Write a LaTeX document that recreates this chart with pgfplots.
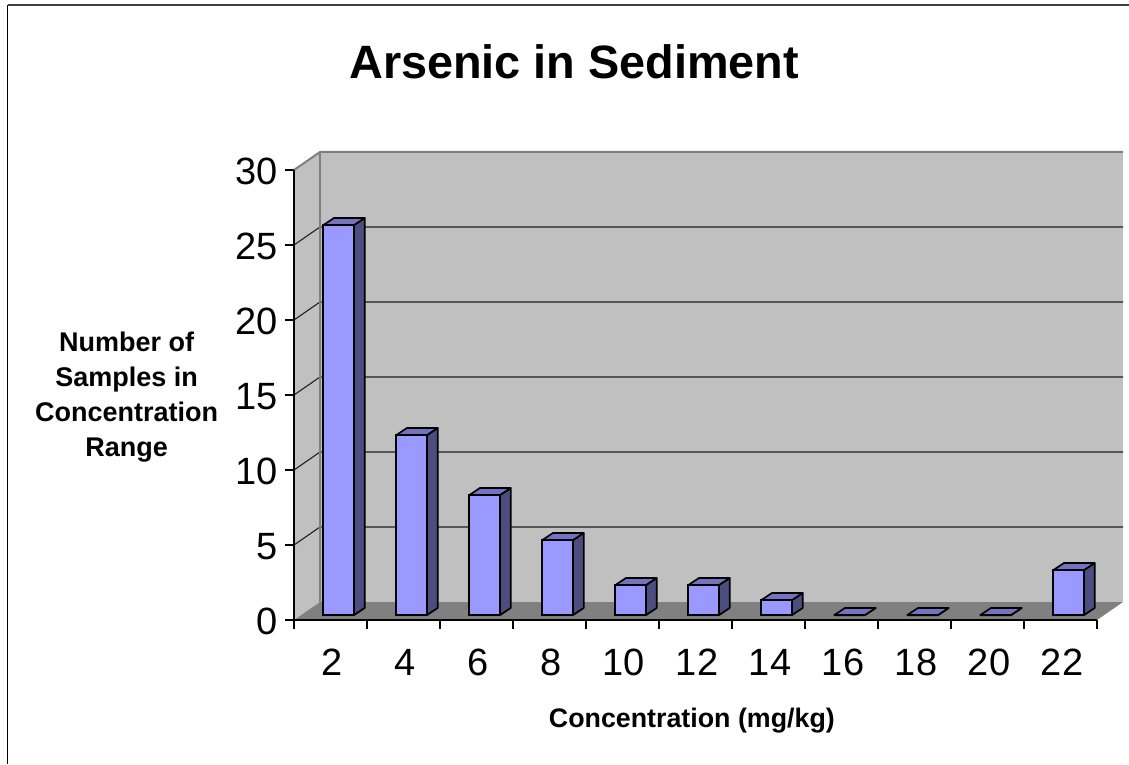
\documentclass[border=0pt]{standalone}
\usepackage{fontspec}
\usepackage{pgfplots}
\pgfplotsset{compat=1.18}
\setmainfont{Liberation Sans}
\definecolor{wall}{HTML}{C0C0C0}
\definecolor{floorc}{HTML}{808080}
\definecolor{gridc}{HTML}{202020}
\definecolor{barfront}{HTML}{9999FF}
\definecolor{bartop}{HTML}{7373BF}
\definecolor{barside}{HTML}{4D4D80}
\newcommand{\barfaces}[2]{%
  \pgfmathsetmacro{\xa}{#1-0.2103}%
  \pgfmathsetmacro{\xb}{#1+0.2103}%
  \pgfmathsetmacro{\xc}{#1+0.2103+0.1507}%
  \pgfmathsetmacro{\xd}{#1-0.2103+0.1507}%
  \pgfmathsetmacro{\yt}{#2+0.487}%
  \addplot[draw=black,line width=1.7pt,line join=round,fill=barside,mark=none,forget plot]
    coordinates {(\xb,0) (\xc,0.487) (\xc,\yt) (\xb,#2) (\xb,0)};
  \addplot[draw=black,line width=1.7pt,line join=round,fill=bartop,mark=none,forget plot]
    coordinates {(\xa,#2) (\xd,\yt) (\xc,\yt) (\xb,#2) (\xa,#2)};
}
\begin{document}
\begin{tikzpicture}[x=1pt,y=1pt]
\path[use as bounding box] (0,0) rectangle (1129,764);
% frame
\draw[black,line width=1.6pt] (7.5,0) -- (7.5,758.5);
\draw[black!75,line width=2pt] (7.5,758.5) -- (1129,758.5);
% walls and floor
\fill[wall] (294,144) -- (320,162) -- (320,612) -- (294,594) -- cycle;
\fill[wall] (320,162) rectangle (1123,612);
\fill[floorc] (294,144) -- (320,162) -- (1123,162) -- (1097,144) -- cycle;
\foreach \v in {5,10,15,20,25}{
  \pgfmathsetmacro{\yy}{162+15*\v}
  \draw[gridc,line width=1.1pt] (294,\yy-18) -- (320,\yy) -- (1123,\yy);
}
\draw[floorc,line width=2pt] (294,594) -- (320,612) -- (1123,612);
\draw[floorc,line width=2pt] (320,612) -- (320,162);
\begin{axis}[
  at={(294pt,144pt)},anchor=south west,
  scale only axis,width=803pt,height=450pt,
  xmin=0.5,xmax=11.5,ymin=0,ymax=30,clip=false,
  axis lines=left,axis line style={-,line width=1.4pt,black},
  tick align=outside,
  ytick={0,5,10,15,20,25,30},
  xtick={1,2,3,4,5,6,7,8,9,10,11},
  xticklabels={2,4,6,8,10,12,14,16,18,20,22},
  minor xtick={0.5,1.5,2.5,3.5,4.5,5.5,6.5,7.5,8.5,9.5,10.5,11.5},
  major tick length=9pt,minor tick length=9pt,
  xtick style={draw=none},
  minor x tick style={draw=black,line width=1.2pt},
  y tick style={draw=black,line width=1.2pt},
  /pgf/number format/assume math mode=true,
  tick label style={font=\fontsize{38}{38}\selectfont,inner sep=0pt},
  xticklabel style={anchor=north,text height=27.5pt,text depth=0pt,yshift=-19pt,xshift=1.5pt},
  yticklabel style={anchor=east,xshift=-7.5pt,yshift=-1.5pt},
  title={Arsenic in Sediment},
  title style={at={(rel axis cs:0.349,1.228)},anchor=center,font=\fontsize{46.8}{46.8}\bfseries\selectfont},
  xlabel={Concentration (mg/kg)},
  every axis x label/.style={at={(rel axis cs:0.4955,-0.2235)},anchor=center,font=\fontsize{26.8}{26.8}\bfseries\selectfont},
  ylabel={Number of\\Samples in\\Concentration\\Range},
  every axis y label/.style={at={(rel axis cs:-0.2085,0.4955)},anchor=center,align=center,font=\fontsize{27}{35}\bfseries\selectfont},
]
\end{axis}
\begin{axis}[
  at={(301.8pt,148.7pt)},anchor=south west,
  scale only axis,width=803pt,height=450pt,
  xmin=0.5,xmax=11.5,ymin=0,ymax=30,clip=false,
  hide axis,
]
\barfaces{1}{26}
\barfaces{2}{12}
\barfaces{3}{8}
\barfaces{4}{5}
\barfaces{5}{2}
\barfaces{6}{2}
\barfaces{7}{1}
\barfaces{8}{0}
\barfaces{9}{0}
\barfaces{10}{0}
\barfaces{11}{3}
\addplot[ybar,bar width=30.7pt,bar shift=0pt,draw=black,line width=1.7pt,fill=barfront]
  coordinates {(1,26) (2,12) (3,8) (4,5) (5,2) (6,2) (7,1) (8,0) (9,0) (10,0) (11,3)};
\end{axis}
\end{tikzpicture}
\end{document}
